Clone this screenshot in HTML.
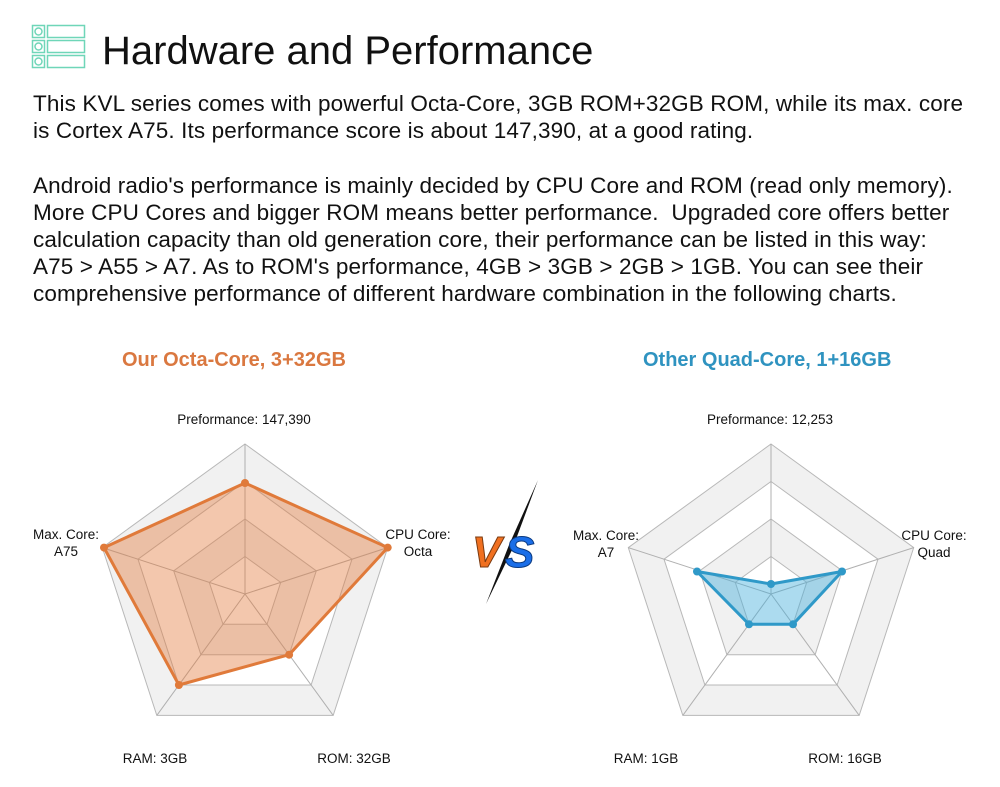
<!DOCTYPE html>
<html><head><meta charset="utf-8"><style>
html,body{margin:0;padding:0;background:#fff;}
body{width:1000px;height:787px;position:relative;overflow:hidden;font-family:"Liberation Sans",Arial,sans-serif;}
.t{position:absolute;white-space:nowrap;color:#111;}
.b{font-size:22.5px;left:33px;letter-spacing:0.12px;}
.l{font-size:13.5px;text-align:center;width:200px;line-height:17px;}
</style></head><body>
<svg style="position:absolute;left:0;top:0" width="1000" height="787" xmlns="http://www.w3.org/2000/svg">
<g fill="none" stroke="#6fd6b8" stroke-width="1.5">
<rect x="32.5" y="25.5" width="12" height="12"/><circle cx="38.5" cy="31.5" r="3.5"/><rect x="47.5" y="25.5" width="37" height="12"/>
<rect x="32.5" y="40.5" width="12" height="12"/><circle cx="38.5" cy="46.5" r="3.5"/><rect x="47.5" y="40.5" width="37" height="12"/>
<rect x="32.5" y="55.5" width="12" height="12"/><circle cx="38.5" cy="61.5" r="3.5"/><rect x="47.5" y="55.5" width="37" height="12"/>
</g>
<defs>
<g id="web">
<polygon points="245,444 387.7,547.6 333.2,715.4 156.8,715.4 102.3,547.6" fill="#f1f1f1" stroke="#b8b8b8"/>
<polygon points="245,481.5 352,559.2 311.1,685 178.9,685 138,559.2" fill="#fff" stroke="#b8b8b8"/>
<polygon points="245,519 316.3,570.8 289.1,654.7 200.9,654.7 173.7,570.8" fill="#f1f1f1" stroke="#b8b8b8"/>
<polygon points="245,556.5 280.7,582.4 267,624.3 223,624.3 209.3,582.4" fill="#fff" stroke="#b8b8b8"/>
<g stroke="#b0b0b0"><line x1="245" y1="594" x2="245" y2="444"/><line x1="245" y1="594" x2="387.7" y2="547.6"/><line x1="245" y1="594" x2="333.2" y2="715.4"/><line x1="245" y1="594" x2="156.8" y2="715.4"/><line x1="245" y1="594" x2="102.3" y2="547.6"/></g>
</g>
</defs>
<use href="#web"/>
<polygon points="245,483 387.7,547.6 289.1,654.7 178.9,685 104,547.6" fill="rgba(226,122,60,0.42)" stroke="#e07a3a" stroke-width="3" stroke-linejoin="round"/>
<g fill="#e07a3a"><circle cx="245" cy="483" r="4"/><circle cx="387.7" cy="547.6" r="4"/><circle cx="289.1" cy="654.7" r="4"/><circle cx="178.9" cy="685" r="4"/><circle cx="104" cy="547.6" r="4"/></g>
<use href="#web" transform="translate(526,0)"/>
<polygon points="771,584 842,571.5 793,624.3 749,624.3 697,571.5" fill="rgba(70,175,220,0.45)" stroke="#2f99c8" stroke-width="3" stroke-linejoin="round"/>
<g fill="#2f99c8"><circle cx="771" cy="584" r="4"/><circle cx="842" cy="571.5" r="4"/><circle cx="793" cy="624.3" r="4"/><circle cx="749" cy="624.3" r="4"/><circle cx="697" cy="571.5" r="4"/></g>
<polygon points="538,480 512,550 486,604 509,545" fill="#111"/>
<text x="472" y="567" font-family="Liberation Sans" font-weight="bold" font-style="italic" font-size="44" fill="#f07020" stroke="#7a3a10" stroke-width="1">V</text>
<text x="505" y="567" font-family="Liberation Sans" font-weight="bold" font-style="italic" font-size="44" fill="#1a6ee8" stroke="#0b3a80" stroke-width="1">S</text>
</svg>
<div class="t" style="left:102px;top:29px;font-size:40px;">Hardware and Performance</div>
<div class="t b" style="top:91px;">This KVL series comes with powerful Octa-Core, 3GB ROM+32GB ROM, while its max. core</div>
<div class="t b" style="top:118px;">is Cortex A75. Its performance score is about 147,390, at a good rating.</div>
<div class="t b" style="top:173px;">Android radio's performance is mainly decided by CPU Core and ROM (read only memory).</div>
<div class="t b" style="top:200px;">More CPU Cores and bigger ROM means better performance.&nbsp; Upgraded core offers better</div>
<div class="t b" style="top:227px;">calculation capacity than old generation core, their performance can be listed in this way:</div>
<div class="t b" style="top:254px;">A75 &gt; A55 &gt; A7. As to ROM's performance, 4GB &gt; 3GB &gt; 2GB &gt; 1GB. You can see their</div>
<div class="t b" style="top:281px;">comprehensive performance of different hardware combination in the following charts.</div>
<div class="t" style="left:122px;top:349px;font-size:20px;font-weight:bold;color:#da7840;">Our Octa-Core, 3+32GB</div>
<div class="t" style="left:643px;top:349px;font-size:20px;font-weight:bold;color:#2f93c0;">Other Quad-Core, 1+16GB</div>
<div class="t l" style="left:144px;top:411px;">Preformance: 147,390</div>
<div class="t l" style="left:-34px;top:526px;">Max. Core:<br>A75</div>
<div class="t l" style="left:318px;top:526px;">CPU Core:<br>Octa</div>
<div class="t l" style="left:55px;top:750px;">RAM: 3GB</div>
<div class="t l" style="left:254px;top:750px;">ROM: 32GB</div>
<div class="t l" style="left:670px;top:411px;">Preformance: 12,253</div>
<div class="t l" style="left:506px;top:527px;">Max. Core:<br>A7</div>
<div class="t l" style="left:834px;top:527px;">CPU Core:<br>Quad</div>
<div class="t l" style="left:546px;top:750px;">RAM: 1GB</div>
<div class="t l" style="left:745px;top:750px;">ROM: 16GB</div>
</body></html>
